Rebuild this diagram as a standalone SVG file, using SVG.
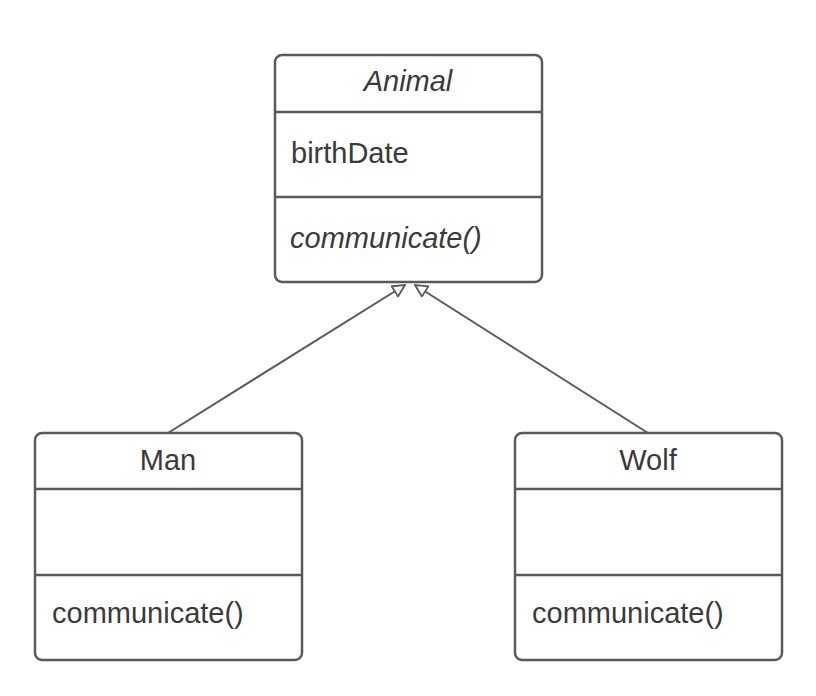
<svg xmlns="http://www.w3.org/2000/svg" width="816" height="696" viewBox="0 0 816 696">
<style>
.box{fill:#fff;stroke:#5a5a5a;stroke-width:2.5}
.div{stroke:#5a5a5a;stroke-width:2.5}
.t{font-family:"Liberation Sans",Arial,sans-serif;font-size:29px;fill:#3a3a3a}
.i{font-style:italic}
.c{text-anchor:middle}
.edge{stroke:#5a5a5a;stroke-width:2;fill:none}
</style>
<defs>
<marker id="tri" viewBox="0 0 14 14" refX="13" refY="7" markerWidth="14" markerHeight="14" markerUnits="userSpaceOnUse" orient="auto">
<path d="M1,1 L13,7 L1,13 Z" fill="#fff" stroke="#5a5a5a" stroke-width="1.8"/>
</marker>
</defs>
<rect width="816" height="696" fill="#fff"/>
<g id="connectors">
<line class="edge" x1="168" y1="433" x2="405" y2="285" marker-end="url(#tri)"/>
<line class="edge" x1="648" y1="433" x2="415" y2="285" marker-end="url(#tri)"/>
</g>
<g id="animal">
<rect class="box" x="275" y="55" width="267" height="227" rx="7"/>
<line class="div" x1="275" y1="112" x2="542" y2="112"/>
<line class="div" x1="275" y1="197" x2="542" y2="197"/>
<text class="t i c" x="408" y="91">Animal</text>
<text class="t" x="291" y="163">birthDate</text>
<text class="t i" x="290" y="248">communicate()</text>
</g>
<g id="man">
<rect class="box" x="35" y="433" width="267" height="227" rx="7"/>
<line class="div" x1="35" y1="489" x2="302" y2="489"/>
<line class="div" x1="35" y1="575" x2="302" y2="575"/>
<text class="t c" x="168" y="470">Man</text>
<text class="t" x="52" y="623">communicate()</text>
</g>
<g id="wolf">
<rect class="box" x="515" y="433" width="267" height="227" rx="7"/>
<line class="div" x1="515" y1="489" x2="782" y2="489"/>
<line class="div" x1="515" y1="575" x2="782" y2="575"/>
<text class="t c" x="648" y="470">Wolf</text>
<text class="t" x="532" y="623">communicate()</text>
</g>
</svg>
